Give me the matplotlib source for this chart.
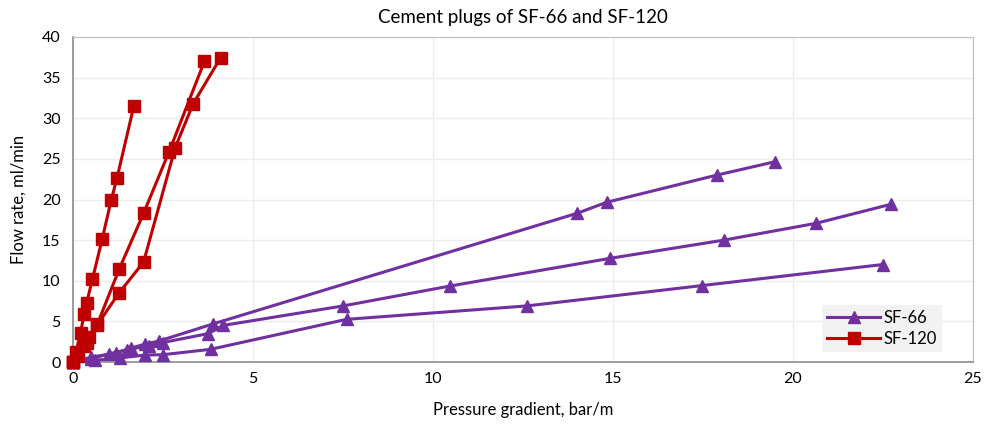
import matplotlib.pyplot as plt

plt.rcParams['font.family'] = ['Lato', 'DejaVu Sans']

# SF-66 runs (pressure gradient bar/m, flow rate ml/min)
sf66_x1 = [0, 0.5, 1.2, 1.6, 2.0, 2.4, 3.9, 14.0, 14.82, 17.88, 19.5]
sf66_y1 = [0, 0.6, 1.1, 1.7, 2.2, 2.6, 4.7, 18.3, 19.65, 23.0, 24.65]
sf66_x2 = [0, 0.5, 1.0, 1.5, 2.1, 2.5, 3.76, 4.17, 7.5, 10.47, 14.92, 18.08, 20.64, 22.71]
sf66_y2 = [0, 0.4, 1.0, 1.5, 2.0, 2.4, 3.5, 4.5, 6.9, 9.35, 12.76, 15.0, 17.07, 19.4]
sf66_x3 = [0, 0.6, 1.3, 2.0, 2.5, 3.82, 7.6, 12.6, 17.46, 22.5]
sf66_y3 = [0, 0.2, 0.5, 0.85, 0.9, 1.56, 5.25, 6.9, 9.4, 12.0]

# SF-120 runs
sf120_x1 = [0, 0.08, 0.21, 0.31, 0.38, 0.54, 0.81, 1.06, 1.22, 1.69]
sf120_y1 = [0, 1.2, 3.6, 5.9, 7.3, 10.2, 15.1, 19.9, 22.6, 31.5]
sf120_x2 = [0, 0.15, 0.40, 0.68, 1.29, 1.96, 2.67, 3.65]
sf120_y2 = [0, 0.8, 2.4, 4.7, 11.5, 18.3, 25.9, 37.0]
sf120_x3 = [0, 0.12, 0.30, 0.45, 0.68, 1.27, 1.96, 2.84, 3.34, 4.10]
sf120_y3 = [0, 1.0, 2.0, 3.1, 4.6, 8.45, 12.3, 26.4, 31.8, 37.45]

purple = '#7030A0'
red = '#C00000'

fig = plt.figure(figsize=(9.91, 4.24), dpi=100)
ax = fig.add_axes([73 / 991, 1 - 362 / 424, 900 / 991, 325 / 424])

sf66 = [(sf66_x1, sf66_y1), (sf66_x2, sf66_y2), (sf66_x3, sf66_y3)]
sf120 = [(sf120_x1, sf120_y1), (sf120_x2, sf120_y2), (sf120_x3, sf120_y3)]

for i, (x, y) in enumerate(sf66):
    ax.plot(x, y, color=purple, lw=2.2, marker='^', ms=9, clip_on=False,
            label='SF-66' if i == 0 else None, zorder=3)
for i, (x, y) in enumerate(sf120):
    ax.plot(x, y, color=red, lw=2.2, marker='s', ms=8, clip_on=False,
            label='SF-120' if i == 0 else None, zorder=4)

ax.set_xlim(0, 25)
ax.set_ylim(0, 40)
ax.set_xticks(range(0, 26, 5))
ax.set_yticks(range(0, 41, 5))
ax.grid(True, color='#ececec', lw=1)
ax.set_axisbelow(True)
ax.tick_params(length=0, labelsize=11.5, colors='#000000')
ax.tick_params(axis='x', pad=7)
ax.tick_params(axis='y', pad=9)
for s in ['top', 'right']:
    ax.spines[s].set_color('#bfbfbf')
for s in ['left', 'bottom']:
    ax.spines[s].set_color('#8c8c8c')
    ax.spines[s].set_linewidth(1.2)

ax.set_xlabel('Pressure gradient, bar/m', fontsize=12, labelpad=12)
ax.set_ylabel('Flow rate, ml/min', fontsize=12, labelpad=11)
ax.set_title('Cement plugs of SF-66 and SF-120', fontsize=13.5, pad=10)

leg = ax.legend(loc='lower right', bbox_to_anchor=(0.9656, 0.031), borderaxespad=0,
                fontsize=12, handlelength=3.2, handletextpad=0.2, frameon=True,
                fancybox=False, borderpad=0.3, labelspacing=0.3)
leg.get_frame().set_facecolor('#f2f2f2')
leg.get_frame().set_edgecolor('none')
leg.get_frame().set_alpha(1)
leg.set_zorder(5)

fig.savefig('out.png', dpi=100)
